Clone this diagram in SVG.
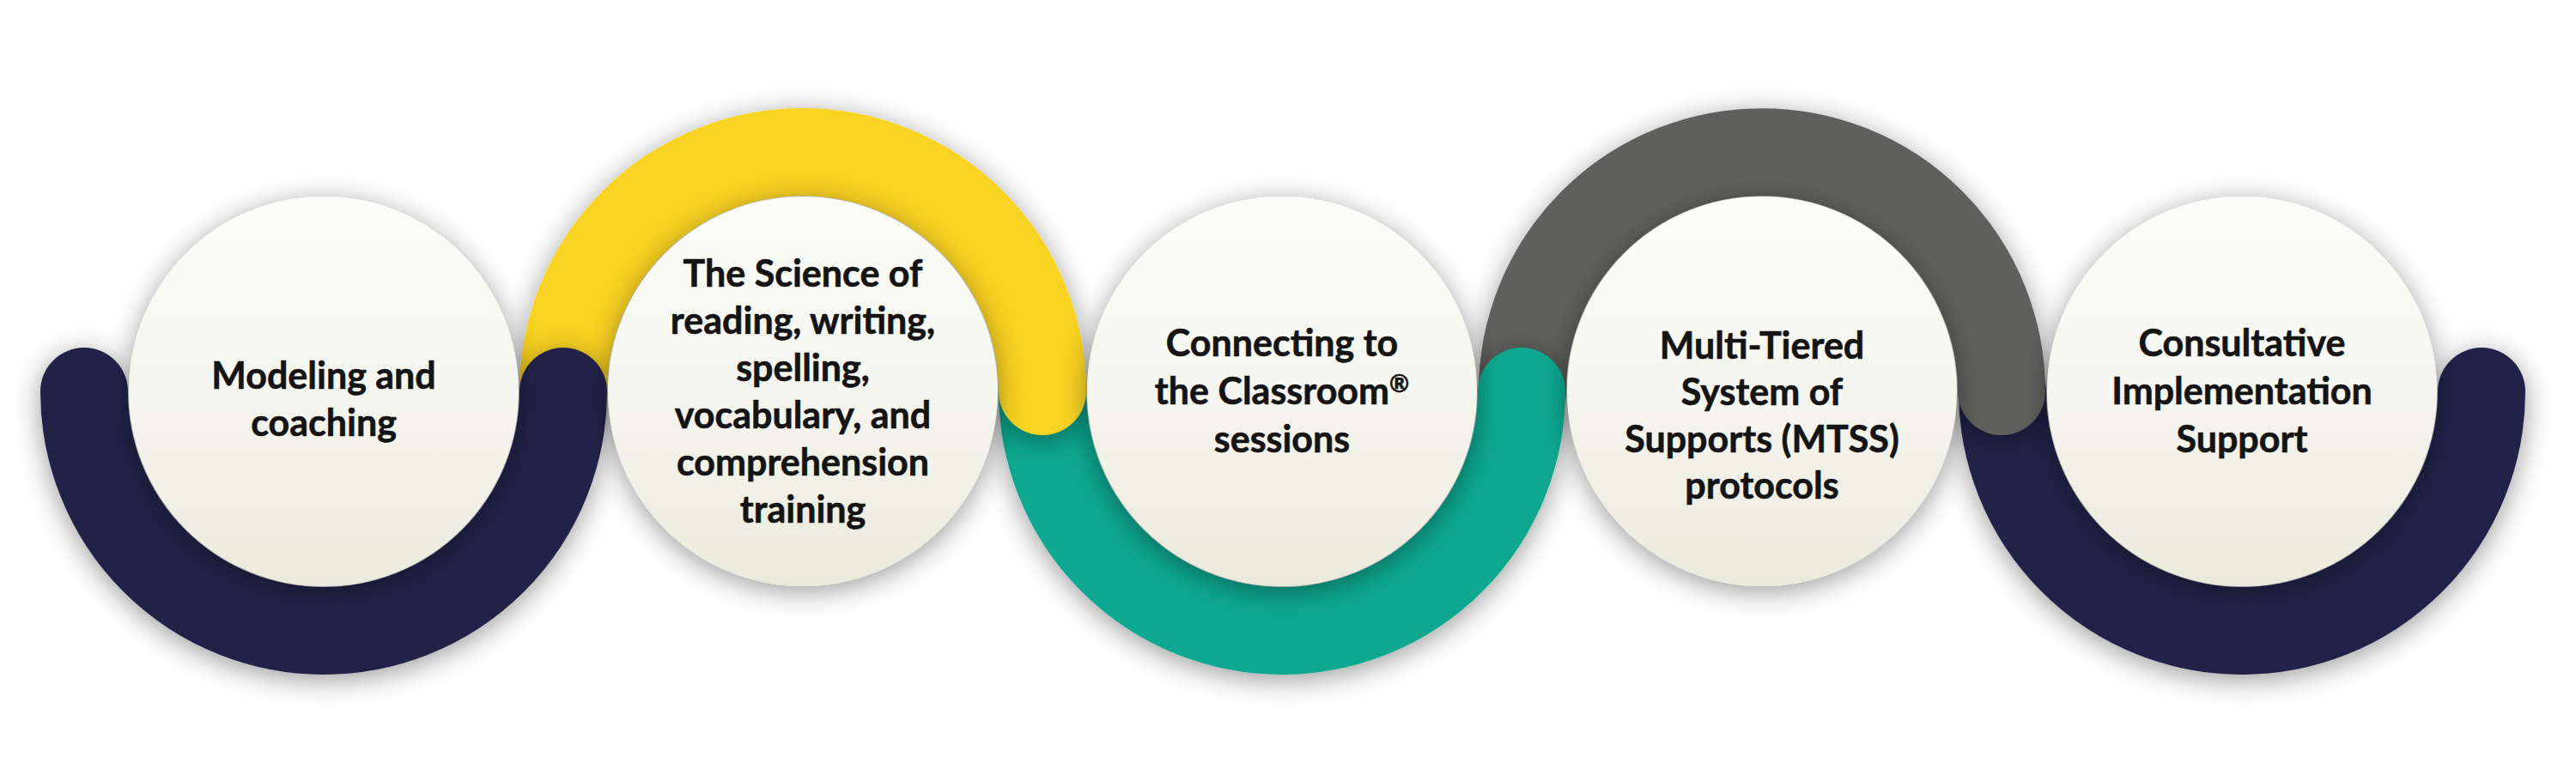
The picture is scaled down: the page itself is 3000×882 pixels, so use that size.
<svg xmlns="http://www.w3.org/2000/svg" width="3000" height="882" viewBox="0 0 3000 882">
  <defs>
    <linearGradient id="cg" x1="0" y1="0" x2="0" y2="1">
      <stop offset="0" stop-color="#fcfcf9"/>
      <stop offset="0.5" stop-color="#f6f6f0"/>
      <stop offset="1" stop-color="#eaeadc"/>
    </linearGradient>
    <filter id="sh" filterUnits="userSpaceOnUse" x="0" y="0" width="3000" height="882">
      <feGaussianBlur in="SourceAlpha" stdDeviation="16"/>
      <feOffset dx="0" dy="6"/>
      <feComponentTransfer><feFuncA type="linear" slope="0.4"/></feComponentTransfer>
      <feMerge><feMergeNode/><feMergeNode in="SourceGraphic"/></feMerge>
    </filter>
  </defs>
  <style>
    .arc { fill: none; stroke-width: 102; stroke-linecap: round; filter: url(#sh); }
    .navy { stroke: #22214a; }
    .yellow { stroke: #f9d322; }
    .teal { stroke: #0ba88f; }
    .gray { stroke: #5e5e5d; }
    .disc { fill: url(#cg); filter: url(#sh); }
    .lbl { font-family: Lato, "Open Sans", "Liberation Sans", sans-serif; font-weight: 700; font-size: 43px; fill: #141414; text-anchor: middle; stroke: #141414; stroke-width: 0.6px; }
    .sup { font-size: 28px; }
  </style>
  <rect x="0" y="0" width="3000" height="882" fill="#ffffff"/>
  <g id="connectors">
    <path class="arc navy" d="M 2332 456 A 279 279 0 0 0 2890 456"/>
    <path class="arc gray" d="M 1773 456 A 279 279 0 0 1 2331 456"/>
    <path class="arc teal" d="M 1214 456 A 279 279 0 0 0 1772 456"/>
    <path class="arc yellow" d="M 656 456 A 279 279 0 0 1 1214 456"/>
    <path class="arc navy" d="M 98 456 A 279 279 0 0 0 656 456"/>
  </g>
  <g id="node1">
    <circle class="disc" cx="377" cy="456" r="227"/>
    <text class="lbl" x="377" y="453">Modeling and</text>
    <text class="lbl" x="377" y="508">coaching</text>
  </g>
  <g id="node2">
    <circle class="disc" cx="935" cy="456" r="227"/>
    <text class="lbl" x="935" y="334">The Science of</text>
    <text class="lbl" x="935" y="389">reading, writing,</text>
    <text class="lbl" x="935" y="444">spelling,</text>
    <text class="lbl" x="935" y="499">vocabulary, and</text>
    <text class="lbl" x="935" y="554">comprehension</text>
    <text class="lbl" x="935" y="609">training</text>
  </g>
  <g id="node3">
    <circle class="disc" cx="1493" cy="456" r="227"/>
    <text class="lbl" x="1493" y="415">Connecting to</text>
    <text class="lbl" x="1493" y="471">the Classroom<tspan class="sup" dy="-14">®</tspan></text>
    <text class="lbl" x="1493" y="527">sessions</text>
  </g>
  <g id="node4">
    <circle class="disc" cx="2052" cy="456" r="227"/>
    <text class="lbl" x="2052" y="418">Multi-Tiered</text>
    <text class="lbl" x="2052" y="472">System of</text>
    <text class="lbl" x="2052" y="527">Supports (MTSS)</text>
    <text class="lbl" x="2052" y="581">protocols</text>
  </g>
  <g id="node5">
    <circle class="disc" cx="2611" cy="456" r="227"/>
    <text class="lbl" x="2611" y="415">Consultative</text>
    <text class="lbl" x="2611" y="471">Implementation</text>
    <text class="lbl" x="2611" y="527">Support</text>
  </g>
</svg>
